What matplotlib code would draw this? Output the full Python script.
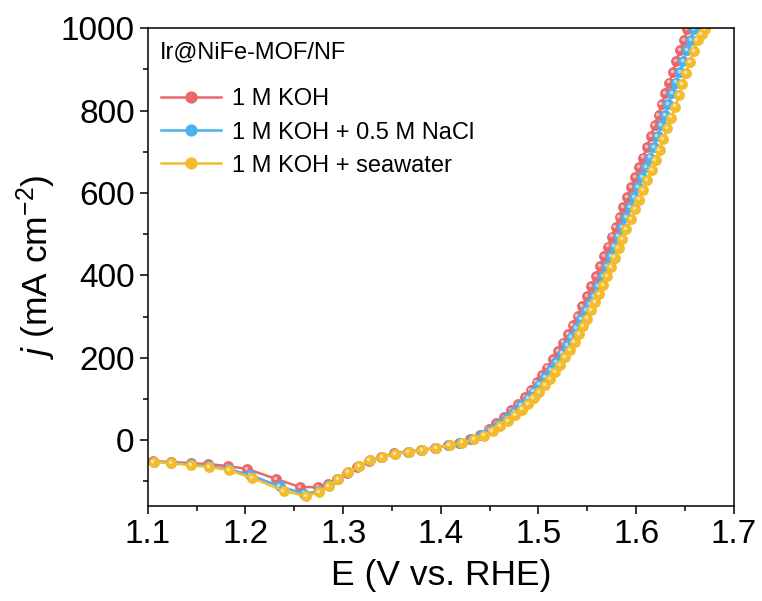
import matplotlib
matplotlib.use("Agg")
import matplotlib.pyplot as plt
import matplotlib.transforms as mtransforms
from matplotlib.colors import to_rgb
from matplotlib.ticker import MultipleLocator

plt.rcParams['font.family'] = ['Liberation Sans', 'DejaVu Sans']
plt.rcParams['mathtext.fontset'] = 'custom'
plt.rcParams['mathtext.rm'] = 'Liberation Sans'
plt.rcParams['mathtext.it'] = 'Liberation Sans:italic'

# potential (V vs. RHE) and current density (mA cm^-2)
e_koh = [1.105, 1.124, 1.144, 1.162, 1.182, 1.202, 1.231, 1.256, 1.274, 1.284, 1.294,
         1.304, 1.314, 1.326, 1.339, 1.352, 1.366, 1.380, 1.394, 1.407, 1.419, 1.430,
         1.440, 1.449, 1.457, 1.465, 1.472, 1.479, 1.486, 1.492, 1.498, 1.504, 1.509,
         1.515, 1.520, 1.525, 1.530, 1.535, 1.540, 1.545, 1.550, 1.554, 1.559, 1.563,
         1.567, 1.571, 1.575, 1.579, 1.583, 1.587, 1.591, 1.595, 1.599, 1.603, 1.607,
         1.611, 1.615, 1.619, 1.623, 1.626, 1.630, 1.634, 1.638, 1.641, 1.645, 1.649,
         1.652]
j_koh = [-51, -53, -56, -58, -63, -70, -94, -114, -114, -106, -94,
         -79, -64, -51, -41, -32, -28, -24, -19, -12, -6, 2,
         12, 26, 41, 56, 72, 88, 105, 122, 140, 158, 176,
         196, 216, 237, 258, 280, 302, 326, 350, 374, 398, 422,
         446, 470, 494, 518, 542, 566, 590, 614, 638, 662, 686,
         712, 738, 764, 790, 816, 842, 868, 894, 920, 946, 972,
         998]

e_nacl = [1.106, 1.124, 1.144, 1.163, 1.183, 1.205, 1.235, 1.260, 1.275, 1.285, 1.295,
          1.305, 1.316, 1.327, 1.340, 1.353, 1.367, 1.381, 1.395, 1.408, 1.420, 1.432,
          1.442, 1.451, 1.460, 1.468, 1.475, 1.482, 1.489, 1.495, 1.501, 1.507, 1.513,
          1.518, 1.524, 1.529, 1.534, 1.539, 1.544, 1.549, 1.553, 1.557, 1.561, 1.566,
          1.570, 1.574, 1.578, 1.582, 1.586, 1.590, 1.594, 1.598, 1.602, 1.606, 1.610,
          1.614, 1.618, 1.622, 1.626, 1.630, 1.633, 1.637, 1.641, 1.645, 1.648, 1.652,
          1.656, 1.659]
j_nacl = [-52, -55, -59, -63, -70, -85, -112, -130, -124, -110, -94,
          -78, -63, -49, -41, -33, -29, -24, -19, -12, -6, 2,
          12, 25, 39, 54, 69, 85, 101, 118, 135, 153, 171,
          190, 210, 230, 251, 272, 294, 316, 331, 350, 374, 398,
          422, 446, 470, 494, 518, 542, 566, 590, 614, 638, 662,
          686, 712, 738, 764, 790, 816, 842, 868, 894, 920, 946,
          972, 998]

e_sea = [1.106, 1.124, 1.144, 1.163, 1.183, 1.207, 1.239, 1.262, 1.275, 1.285, 1.295,
         1.305, 1.316, 1.327, 1.340, 1.353, 1.367, 1.381, 1.395, 1.409, 1.422, 1.434,
         1.444, 1.453, 1.461, 1.469, 1.476, 1.483, 1.489, 1.495, 1.501, 1.507, 1.512,
         1.517, 1.522, 1.527, 1.532, 1.537, 1.542, 1.546, 1.550, 1.554, 1.558, 1.562,
         1.566, 1.570, 1.574, 1.578, 1.582, 1.586, 1.590, 1.595, 1.599, 1.603, 1.607,
         1.611, 1.616, 1.620, 1.624, 1.628, 1.632, 1.636, 1.640, 1.644, 1.647, 1.651,
         1.655, 1.659, 1.663, 1.667, 1.671]
j_sea = [-53, -56, -61, -65, -73, -92, -123, -136, -126, -111, -94,
         -77, -63, -48, -41, -33, -29, -24, -19, -12, -6, 2,
         11, 22, 34, 47, 60, 74, 88, 102, 117, 133, 149,
         166, 183, 201, 219, 238, 257, 276, 295, 315, 335, 355,
         376, 398, 420, 443, 466, 489, 512, 536, 560, 584, 608,
         632, 656, 680, 705, 731, 757, 783, 810, 837, 864, 891,
         918, 945, 972, 985, 998]

labels = ['1 M KOH', '1 M KOH + 0.5 M NaCl', '1 M KOH + seawater']
colors = ['#E8686C', '#4AB2EE', '#F4BC2C']


def tint(c, f=0.55):
    r, g, b = to_rgb(c)
    return (r + (1 - r) * f, g + (1 - g) * f, b + (1 - b) * f)


fig = plt.figure(figsize=(7.62, 6.01), dpi=100)
ax = fig.add_axes([0.194, 0.158, 0.769, 0.795])
shine = mtransforms.offset_copy(ax.transData, fig=fig, x=-1.2, y=1.2, units='dots')

handles = []
for e, j, c, lab in zip([e_koh, e_nacl, e_sea], [j_koh, j_nacl, j_sea], colors, labels):
    h, = ax.plot(e, j, '-o', color=c, lw=1.8, ms=6.8, mec=c, mfc=c, label=lab)
    # little shine on each ball
    ax.plot(e, j, 'o', color=tint(c), ms=2.6, mec='none', transform=shine)
    handles.append(h)

ax.set_xlim(1.1, 1.7)
ax.set_ylim(-160, 1000)
ax.xaxis.set_major_locator(MultipleLocator(0.1))
ax.xaxis.set_minor_locator(MultipleLocator(0.05))
ax.yaxis.set_major_locator(MultipleLocator(200))
ax.yaxis.set_minor_locator(MultipleLocator(100))
ax.tick_params(which='both', direction='out', labelsize=24, width=1.1)
ax.tick_params(which='major', length=6)
ax.tick_params(which='minor', length=3.5)
for s in ax.spines.values():
    s.set_linewidth(1.1)

ax.set_xlabel('E (V vs. RHE)', fontsize=25.5, labelpad=6)
ax.set_ylabel('$\\mathit{j}$ (mA cm$^{-2}$)', fontsize=25.5, labelpad=2)

ax.text(0.02, 0.95, 'Ir@NiFe-MOF/NF', transform=ax.transAxes, fontsize=17,
        ha='left', va='center')
ax.legend(handles=handles, loc='upper left', bbox_to_anchor=(0.022, 0.874),
          frameon=False, fontsize=17, handlelength=2.55, handletextpad=0.45,
          labelspacing=0.47, borderaxespad=0, borderpad=0, markerscale=1.15)

plt.savefig('out.png', dpi=100)
